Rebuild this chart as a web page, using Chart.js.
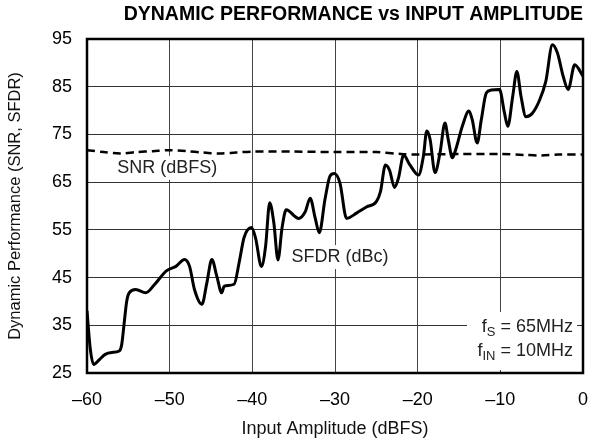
<!DOCTYPE html>
<html>
<head>
<meta charset="utf-8">
<script src="https://cdn.jsdelivr.net/npm/chart.js@4/dist/chart.umd.min.js"></script>
<style>
  html, body { margin: 0; padding: 0; background: #fff; }
  #wrap { width: 589px; height: 442px; }
</style>
</head>
<body>
<div id="wrap"><canvas id="perfChart" width="589" height="442"></canvas></div>
<script>
const sfdrAmp = [-60, -59.6, -59.2, -58.5, -57.8, -57, -56.1, -55.8, -55.5, -55.2, -54.9, -54.1, -52.9, -51.8, -50.4, -49.2,
  -48.2, -47.6, -47.0, -46.1, -45.5, -44.9, -44.3, -43.7, -43.4, -42.2, -41.6, -41.0, -40.1, -39.6, -38.9, -38.4,
  -37.9, -37.4, -36.9, -36.4, -35.9, -34.4, -33.6, -33.0, -32.4, -31.9, -31.2, -30.6, -30.1, -29.4, -28.6, -27.4,
  -26.2, -25.0, -24.5, -23.9, -23.4, -22.8, -22.3, -21.7, -21.0, -19.9, -19.3, -18.9, -18.5, -17.9, -17.3, -16.7,
  -16.3, -15.8, -15.4, -14.6, -13.8, -13.4, -12.8, -12.3, -11.7, -11.1, -10.1, -9.5, -9.1, -8.5, -8.0, -7.5,
  -6.9, -6.1, -5.3, -4.5, -3.7, -3.1, -2.4, -1.8, -1.0, 0];
const sfdrDbc = [38, 30, 26.8, 27.8, 28.9, 29.3, 29.6, 31, 35.5, 40, 41.8, 42.5, 41.8, 43.6, 46.4, 47.4,
  48.8, 47.4, 42.5, 39.4, 43.9, 48.8, 45.3, 41.8, 43.2, 43.6, 48.1, 53.4, 55.5, 53.2, 47.3, 51.5,
  60.7, 56.5, 48.7, 55.5, 59.2, 57.4, 58.8, 61.6, 57.5, 54.4, 61.5, 66.3, 66.8, 64.8, 57.4, 58.5,
  59.8, 60.9, 63.0, 68.6, 67.5, 63.9, 66.0, 70.7, 68.8, 66.5, 70.5, 75.7, 74.0, 67.0, 71.1, 77.4,
  73.9, 70.1, 71.8, 76.7, 79.9, 78.1, 73.2, 78.1, 83.7, 84.3, 84.4, 79.5, 76.7, 83.0, 88.2, 83.0,
  78.7, 79.5, 82.0, 86.1, 93.8, 92.1, 87.2, 84.4, 89.6, 87.2];

const snrAmp = [-60, -58, -56, -54, -52, -50, -48, -46, -44, -42, -40, -35, -30, -25, -22, -20, -15, -10, -7, -5, -3, 0];
const snrDbfs = [71.7, 71.3, 71.0, 71.3, 71.5, 71.7, 71.5, 71.2, 71.0, 71.2, 71.4, 71.4, 71.3, 71.3, 70.9, 70.8, 70.9, 70.9, 70.7, 70.6, 70.8, 70.8];

const xTicks = [-60, -50, -40, -30, -20, -10, 0];
const yTicks = [25, 35, 45, 55, 65, 75, 85, 95];

const FONT = "'Liberation Sans', Arial, Helvetica, sans-serif";

// text boxes with white backing, drawn over the grid
const notes = {
  id: 'notes',
  beforeDatasetsDraw(chart) {
    const { ctx, scales: { x, y } } = chart;
    ctx.save();
    ctx.font = '18px ' + FONT;
    ctx.textBaseline = 'middle';
    ctx.textAlign = 'center';
    const label = (txt, px, py) => {
      const w = ctx.measureText(txt).width;
      ctx.fillStyle = '#fff';
      ctx.fillRect(px - w / 2 - 3, py - 12, w + 6, 24);
      ctx.fillStyle = '#222';
      ctx.fillText(txt, px, py);
    };
    label('SNR (dBFS)', x.getPixelForValue(-50.3), y.getPixelForValue(68));
    label('SFDR (dBc)', x.getPixelForValue(-29.4), y.getPixelForValue(49.3));

    // fS / fIN block, right aligned
    const right = 573;
    ctx.fillStyle = '#fff';
    ctx.fillRect(467, 312, 110, 58);
    ctx.fillStyle = '#222';
    ctx.textAlign = 'left';
    ctx.textBaseline = 'alphabetic';
    const sub = (main, s, rest, base) => {
      ctx.font = '18px ' + FONT;
      const w1 = ctx.measureText(main).width;
      const w3 = ctx.measureText(rest).width;
      ctx.font = '13px ' + FONT;
      const w2 = ctx.measureText(s).width;
      const px = right - w1 - w2 - w3;
      ctx.font = '18px ' + FONT;
      ctx.fillText(main, px, base);
      ctx.font = '13px ' + FONT;
      ctx.fillText(s, px + w1, base + 4);
      ctx.font = '18px ' + FONT;
      ctx.fillText(rest, px + w1 + w2, base);
    };
    sub('f', 'S', ' = 65MHz', 332);
    sub('f', 'IN', ' = 10MHz', 356);
    ctx.restore();
  },
  afterDraw(chart) {
    const { ctx, chartArea: a } = chart;
    ctx.save();
    ctx.strokeStyle = '#000';
    ctx.lineWidth = 2.5;
    ctx.strokeRect(a.left, a.top, a.right - a.left, a.bottom - a.top);
    ctx.restore();
  }
};

new Chart(document.getElementById('perfChart'), {
  type: 'line',
  data: {
    datasets: [
      {
        label: 'SNR (dBFS)',
        data: snrAmp.map((v, i) => ({ x: v, y: snrDbfs[i] })),
        borderColor: '#000',
        borderWidth: 2.5,
        borderDash: [8, 5],
        pointRadius: 0,
        tension: 0.3,
        fill: false
      },
      {
        label: 'SFDR (dBc)',
        data: sfdrAmp.map((v, i) => ({ x: v, y: sfdrDbc[i] })),
        borderColor: '#000',
        borderWidth: 3,
        pointRadius: 0,
        cubicInterpolationMode: 'monotone',
        fill: false
      }
    ]
  },
  options: {
    responsive: false,
    animation: false,
    layout: { padding: { left: 0, right: 6, top: 0, bottom: 0 } },
    plugins: {
      legend: { display: false },
      tooltip: { enabled: false },
      title: {
        display: true,
        text: 'DYNAMIC PERFORMANCE vs INPUT AMPLITUDE',
        color: '#000',
        align: 'end',
        font: { family: FONT, size: 19.5, weight: 'bold', lineHeight: 1.2 },
        padding: { top: 3, bottom: 12.6 }
      }
    },
    scales: {
      x: {
        type: 'linear',
        min: -60,
        max: 0,
        afterBuildTicks: s => { s.ticks = xTicks.map(v => ({ value: v })); },
        afterFit: s => { s.height = 69; s.paddingLeft = 0; s.paddingRight = 0; },
        ticks: {
          color: '#000',
          font: { family: FONT, size: 18 },
          padding: 16,
          maxRotation: 0,
          callback: v => String(v).replace('-', '\u2013')
        },
        grid: { color: '#444', lineWidth: 1, drawTicks: false },
        border: { display: false },
        title: {
          display: true,
          text: 'Input Amplitude (dBFS)',
          color: '#111',
          font: { family: FONT, size: 18 },
          padding: { top: 4, bottom: 2 }
        }
      },
      y: {
        min: 25,
        max: 95,
        afterBuildTicks: s => { s.ticks = yTicks.map(v => ({ value: v })); },
        afterFit: s => { s.width = 87; },
        ticks: {
          color: '#000',
          font: { family: FONT, size: 18 },
          padding: 15
        },
        grid: { color: '#333', lineWidth: 1, drawTicks: false },
        border: { display: false },
        title: {
          display: true,
          text: 'Dynamic Performance (SNR, SFDR)',
          color: '#111',
          font: { family: FONT, size: 16.5 },
          padding: { top: 6, bottom: 2 }
        }
      }
    }
  },
  plugins: [notes]
});
</script>
</body>
</html>
